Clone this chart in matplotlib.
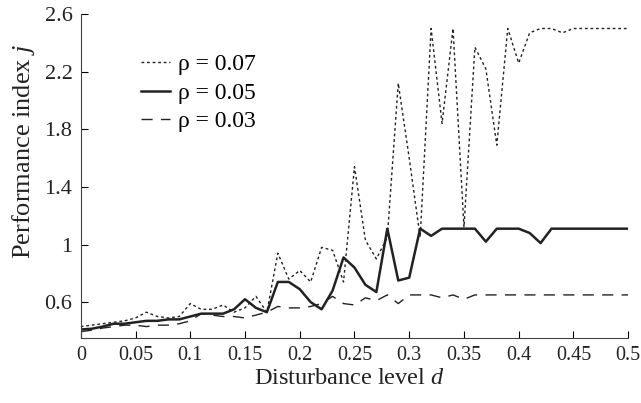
import numpy as np
import matplotlib
matplotlib.use('Agg')
import matplotlib.pyplot as plt

plt.rcParams['font.family'] = ['Liberation Serif', 'DejaVu Serif']
plt.rcParams['mathtext.fontset'] = 'custom'
plt.rcParams['mathtext.rm'] = 'Liberation Serif'
plt.rcParams['mathtext.it'] = 'Liberation Serif:italic'

d = np.round(np.arange(51) * 0.01, 2)

rho07 = [0.43, 0.44, 0.45, 0.46, 0.47, 0.49, 0.53, 0.50, 0.49, 0.50,
         0.59, 0.55, 0.55, 0.58, 0.53, 0.56, 0.64, 0.53, 0.94, 0.76,
         0.82, 0.74, 0.98, 0.96, 0.74, 1.54, 1.03, 0.90, 1.05, 2.12,
         1.60, 1.05, 2.50, 1.84, 2.50, 1.12, 2.37, 2.22, 1.69, 2.50,
         2.26, 2.47, 2.50, 2.50, 2.47, 2.50, 2.50, 2.50, 2.50, 2.50,
         2.50]
rho05 = [0.41, 0.415, 0.43, 0.45, 0.45, 0.46, 0.47, 0.47, 0.48, 0.48,
         0.50, 0.52, 0.52, 0.52, 0.55, 0.62, 0.56, 0.53, 0.74, 0.74,
         0.69, 0.60, 0.55, 0.68, 0.91, 0.84, 0.72, 0.67, 1.11, 0.75,
         0.77, 1.11, 1.06, 1.11, 1.11, 1.11, 1.11, 1.02, 1.11, 1.11,
         1.11, 1.08, 1.01, 1.11, 1.11, 1.11, 1.11, 1.11, 1.11, 1.11,
         1.11]
rho03 = [0.395, 0.405, 0.42, 0.43, 0.44, 0.44, 0.43, 0.44, 0.44, 0.45,
         0.47, 0.52, 0.51, 0.50, 0.50, 0.49, 0.51, 0.53, 0.57, 0.56,
         0.56, 0.57, 0.59, 0.64, 0.59, 0.58, 0.63, 0.61, 0.65, 0.59,
         0.65, 0.65, 0.65, 0.63, 0.65, 0.62, 0.65, 0.65, 0.65, 0.65,
         0.65, 0.65, 0.65, 0.65, 0.65, 0.65, 0.65, 0.65, 0.65, 0.65,
         0.65]

xticks = [0, 0.05, 0.1, 0.15, 0.2, 0.25, 0.3, 0.35, 0.4, 0.45, 0.5]
xticklabels = ['0', '0.05', '0.1', '0.15', '0.2', '0.25', '0.3', '0.35', '0.4', '0.45', '0.5']
yticks = [0.6, 1.0, 1.4, 1.8, 2.2, 2.6]
yticklabels = ['0.6', '1', '1.4', '1.8', '2.2', '2.6']

fig = plt.figure(figsize=(6.41, 4.03), dpi=100)
ax = fig.add_axes([0.126, 0.161, 0.854, 0.804])

ax.plot(d, rho07, color='#222222', lw=1.0, ls=(0, (2, 2)), label='ρ = 0.07')
ax.plot(d, rho05, color='#222222', lw=1.8, ls='-', label='ρ = 0.05')
ax.plot(d, rho03, color='#222222', lw=1.0, ls=(0, (8, 6)), label='ρ = 0.03')

ax.set_xlim(0, 0.5)
ax.set_ylim(0.35, 2.6)
ax.set_xticks(xticks)
ax.set_xticklabels(xticklabels)
ax.set_yticks(yticks)
ax.set_yticklabels(yticklabels)
ax.tick_params(direction='in', length=5, width=0.8, pad=6, labelcolor='#222222')
ax.tick_params(axis='x', labelsize=14.5)
ax.tick_params(axis='y', labelsize=16)

for s in ['top', 'right']:
    ax.spines[s].set_visible(False)
for s in ['left', 'bottom']:
    ax.spines[s].set_linewidth(0.8)
    ax.spines[s].set_color('#444444')

ax.set_xlabel('Disturbance level $d$', fontsize=17.5, color='#222222')
ax.set_ylabel('Performance index $j$', fontsize=19, color='#222222')
ax.xaxis.set_label_coords(0.49, -0.125)
ax.yaxis.set_label_coords(-0.104, 0.577)
ax.yaxis.label.set_verticalalignment('center')
ax.xaxis.label.set_verticalalignment('center')

ax.legend(loc='upper left', bbox_to_anchor=(0.11, 0.878), frameon=False,
          fontsize=17, handlelength=1.25, handletextpad=0.3, labelspacing=0.3,
          borderaxespad=0, borderpad=0)

fig.savefig('out.png', dpi=100)
